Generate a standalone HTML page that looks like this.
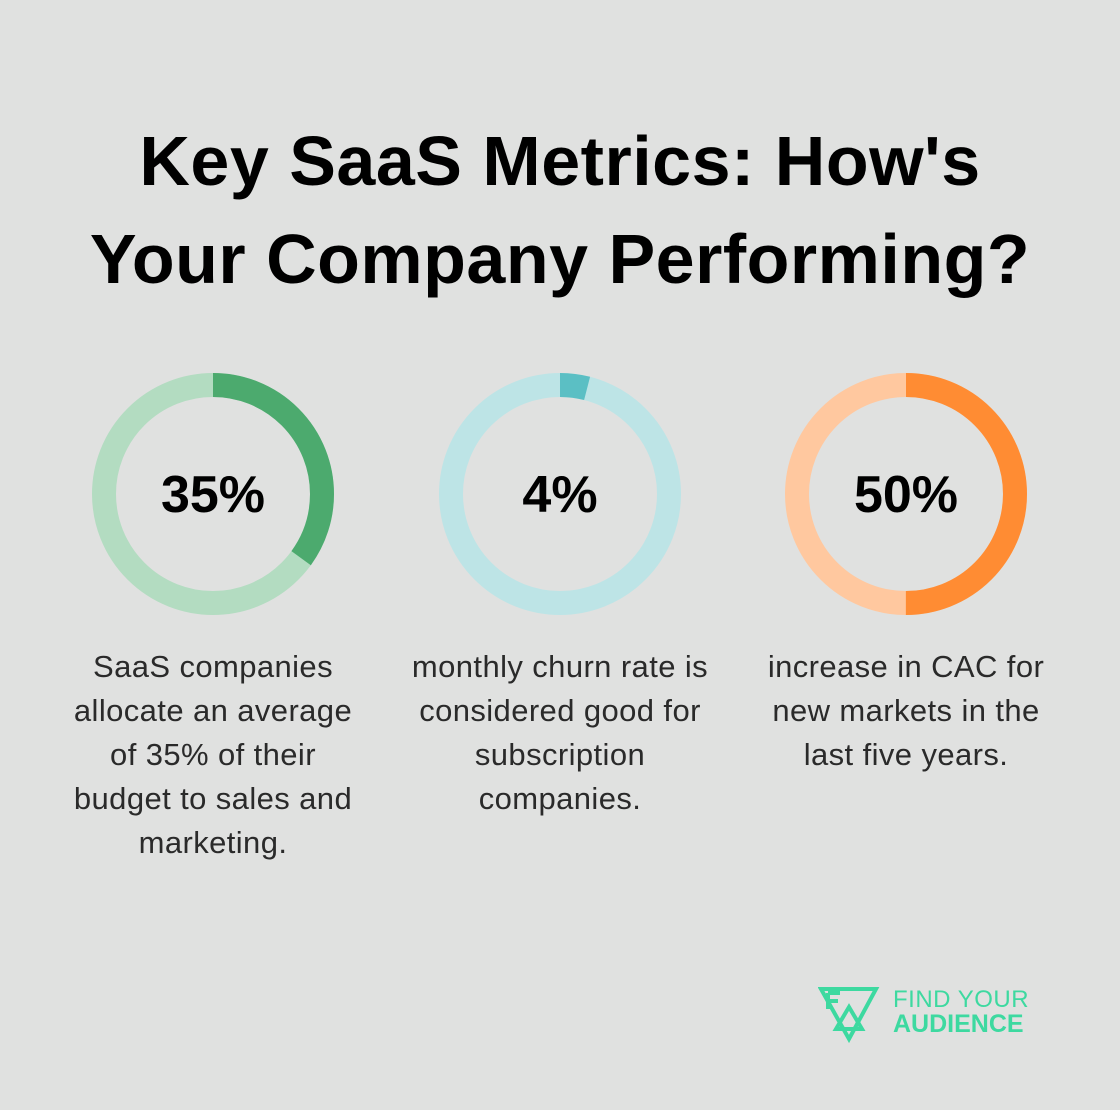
<!DOCTYPE html>
<html><head><meta charset="utf-8"><style>
body{margin:0;width:1120px;height:1110px;background:#e0e1e0;font-family:"Liberation Sans",sans-serif;position:relative;overflow:hidden}
h1{position:absolute;top:112px;left:0;width:1120px;margin:0;text-align:center;font-size:70px;line-height:98px;font-weight:bold;color:#000;letter-spacing:0.5px}
.desc{position:absolute;top:645px;width:310px;text-align:center;font-size:31px;line-height:44px;color:#2a2a2a;letter-spacing:0.4px}
.pct{font-weight:bold;font-size:52px;fill:#000}
</style></head><body>
<h1>Key SaaS Metrics: How's<br>Your Company Performing?</h1>
<svg id="donuts" width="1120" height="640" style="position:absolute;left:0;top:0"></svg>
<div class="desc" style="left:58px">SaaS companies allocate an average of 35% of their budget to sales and marketing.</div>
<div class="desc" style="left:405px">monthly churn rate is considered good for subscription companies.</div>
<div class="desc" style="left:751px">increase in CAC for new markets in the last five years.</div>
<div style="position:absolute;left:818px;top:985px;width:220px;height:60px">
<svg width="64" height="60" style="position:absolute;left:0;top:0" fill="none" stroke="#3dd9a0" stroke-width="4">
<path d="M3 4 H58 L31 54 Z"/><path d="M31 22 L44 44 H18 Z"/><path d="M10 8 V24 M10 8 H22 M10 16 H20"/>
</svg>
<div style="position:absolute;left:75px;top:3px;font-size:24px;line-height:24px;color:#3dd9a0;letter-spacing:0.5px">FIND YOUR</div>
<div style="position:absolute;left:75px;top:27px;font-size:25px;line-height:24px;color:#3dd9a0;font-weight:bold">AUDIENCE</div>
</div>
<script>
const labels=["35%","4%","50%"];
const values=[35,4,50];
const fg=["#4caa6e","#5bbfc4","#ff8c33"];
const bg=["#b3dcc1","#bde4e6","#ffc89f"];
const cxs=[213,560,906],cy=494,r=109,sw=24;
const svg=document.getElementById('donuts');const NS="http://www.w3.org/2000/svg";
const C=2*Math.PI*r;
values.forEach((v,i)=>{
 const b=document.createElementNS(NS,'circle');
 
 
 b.setAttribute('cx',cxs[i]);b.setAttribute('cy',cy);b.setAttribute('r',r);b.setAttribute('fill','none');b.setAttribute('stroke',bg[i]);b.setAttribute('stroke-width',sw);svg.appendChild(b);
 const a=document.createElementNS(NS,'circle');
 
 
 a.setAttribute('cx',cxs[i]);a.setAttribute('cy',cy);a.setAttribute('r',r);a.setAttribute('fill','none');a.setAttribute('stroke',fg[i]);a.setAttribute('stroke-width',sw);
 a.setAttribute('stroke-dasharray',(C*v/100)+' '+C);a.setAttribute('transform','rotate(-90 '+cxs[i]+' '+cy+')');svg.appendChild(a);
 const t=document.createElementNS(NS,'text');
 
 
 t.setAttribute('x',cxs[i]);t.setAttribute('y',cy+18);t.setAttribute('text-anchor','middle');t.setAttribute('class','pct');t.textContent=labels[i];svg.appendChild(t);
});
</script>
</body></html>
